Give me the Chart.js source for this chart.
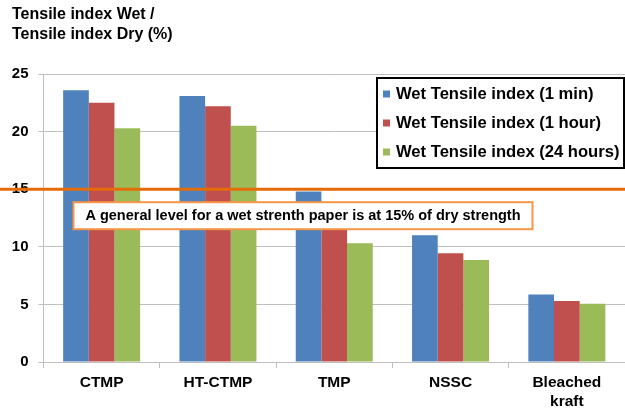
<!DOCTYPE html>
<html>
<head>
<meta charset="utf-8">
<script src="https://cdn.jsdelivr.net/npm/chart.js@4/dist/chart.umd.min.js"></script>
<style>
  html, body { margin: 0; padding: 0; background: #fff; }
  canvas { display: block; }
</style>
</head>
<body>
<canvas id="c" width="625" height="410"></canvas>
<script>
// Pulp categories
const categories = ['CTMP', 'HT-CTMP', 'TMP', 'NSSC', ['Bleached', 'kraft']];

// Wet / dry tensile index ratio (%) after different soaking times
const wet1min   = [23.6, 23.1, 14.8, 11.0, 5.85];
const wet1hour  = [22.5, 22.2, 12.0, 9.45, 5.3];
const wet24hour = [20.3, 20.5, 10.3, 8.85, 5.05];

const seriesNames = ['Wet Tensile index (1 min)', 'Wet Tensile index (1 hour)', 'Wet Tensile index (24 hours)'];
const seriesColors = ['#4F81BD', '#C0504D', '#9BBB59'];

const yTicks = [0, 5, 10, 15, 20, 25];
const titleLines = ['Tensile index Wet /', 'Tensile index Dry (%)'];

const wetStrengthLevel = 15;
const levelNote = 'A general level for a wet strenth paper is at 15% of dry strength';

const FONT = '"Liberation Sans", Arial, sans-serif';

// Title, 15% reference line, its note and the framed legend
const decorations = {
  id: 'decorations',
  afterDatasetsDraw(chart) {
    const ctx = chart.ctx;
    const area = chart.chartArea;
    const y = chart.scales.y;

    ctx.save();
    // axis title in the upper left corner
    ctx.fillStyle = '#000';
    ctx.font = 'bold 16px ' + FONT;
    ctx.textBaseline = 'middle';
    ctx.textAlign = 'left';
    titleLines.forEach((t, i) => ctx.fillText(t, 12, 15 + i * 20));

    // reference level line across the full width
    const ly = y.getPixelForValue(wetStrengthLevel);
    ctx.strokeStyle = '#E36C09';
    ctx.lineWidth = 3;
    ctx.beginPath();
    ctx.moveTo(0, ly);
    ctx.lineTo(chart.width, ly);
    ctx.stroke();

    // note box under the line
    const bx = area.left + 30, bw = 459, by = ly + 13, bh = 27;
    ctx.fillStyle = '#fff';
    ctx.fillRect(bx, by, bw, bh);
    ctx.strokeStyle = '#F79646';
    ctx.lineWidth = 2;
    ctx.strokeRect(bx, by, bw, bh);
    ctx.fillStyle = '#000';
    ctx.font = 'bold 14.5px ' + FONT;
    ctx.textAlign = 'center';
    ctx.fillText(levelNote, bx + bw / 2, by + bh / 2 + 0.5);

    // legend with a black frame
    const lx = 377, lyTop = 78, lw = 247, lh = 90;
    ctx.fillStyle = '#fff';
    ctx.fillRect(lx, lyTop, lw, lh);
    ctx.strokeStyle = '#000';
    ctx.lineWidth = 2;
    ctx.strokeRect(lx, lyTop, lw, lh);
    ctx.font = 'bold 16.6px ' + FONT;
    ctx.textAlign = 'left';
    chart.data.datasets.forEach((ds, i) => {
      const ry = 94 + i * 29;
      ctx.fillStyle = ds.backgroundColor;
      ctx.fillRect(383, ry - 3.5, 7, 7);
      ctx.fillStyle = '#000';
      ctx.fillText(ds.label, 396, ry + 0.5);
    });
    ctx.restore();
  }
};

new Chart(document.getElementById('c'), {
  type: 'bar',
  data: {
    labels: categories,
    datasets: [
      { label: seriesNames[0], data: wet1min,   backgroundColor: seriesColors[0] },
      { label: seriesNames[1], data: wet1hour,  backgroundColor: seriesColors[1] },
      { label: seriesNames[2], data: wet24hour, backgroundColor: seriesColors[2] }
    ]
  },
  options: {
    responsive: false,
    animation: false,
    layout: { padding: { top: 74, right: 0, left: 0, bottom: 0 } },
    datasets: { bar: { categoryPercentage: 0.662, barPercentage: 1.0, borderWidth: 0 } },
    plugins: {
      legend: { display: false },
      title: { display: false },
      tooltip: { enabled: false }
    },
    scales: {
      x: {
        afterFit(scale) { scale.height = 48; },
        grid: { offset: true, drawOnChartArea: false, drawTicks: true, tickLength: 6, color: '#BFBFBF' },
        border: { color: '#BFBFBF' },
        ticks: {
          color: '#000',
          padding: 5,
          maxRotation: 0,
          font: { family: FONT, size: 15.5, weight: 'bold', lineHeight: 1.25 }
        }
      },
      y: {
        min: 0,
        max: 25,
        afterFit(scale) { scale.width = 43.5; },
        afterBuildTicks(scale) { scale.ticks = yTicks.map(v => ({ value: v })); },
        grid: { color: '#BFBFBF', tickLength: 5 },
        border: { color: '#BFBFBF' },
        ticks: {
          color: '#000',
          padding: 10,
          font: { family: FONT, size: 15, weight: 'bold' }
        }
      }
    }
  },
  plugins: [decorations]
});
</script>
</body>
</html>
